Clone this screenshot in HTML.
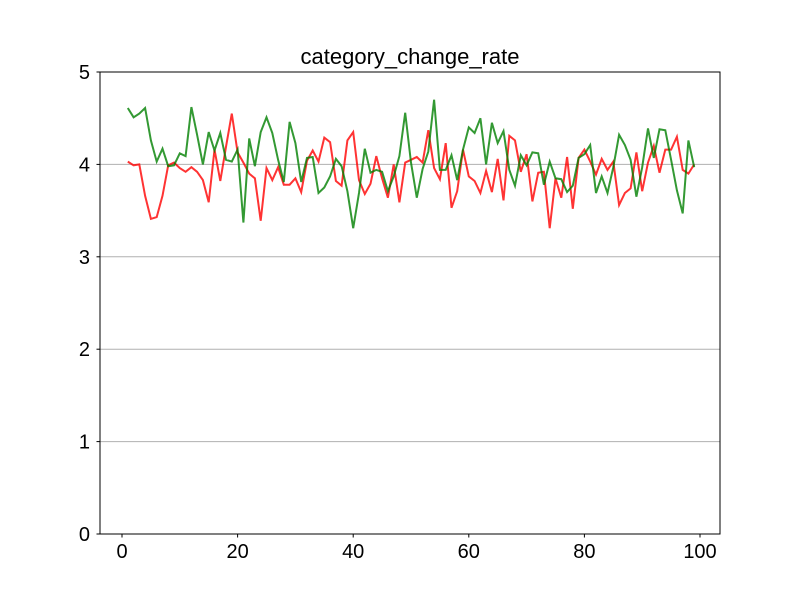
<!DOCTYPE html>
<html><head><meta charset="utf-8">
<style>
html,body{margin:0;padding:0;background:#fff;}
svg text{font-family:"Liberation Sans","DejaVu Sans",sans-serif;fill:#000;}
</style></head>
<body>
<svg id="chart" width="800" height="600" xmlns="http://www.w3.org/2000/svg">
<rect width="800" height="600" fill="#fff"/>
<text x="410" y="64" font-size="22" text-anchor="middle">category_change_rate</text>
<g id="grid"></g>
<g id="series"></g>
<rect x="100" y="72" width="620" height="462" fill="none" stroke="#000" stroke-width="1"/>
<g id="ticks"></g>
</svg>
<script>
const yTicks = [0,1,2,3,4,5];
const xTicks = [0,20,40,60,80,100];
const redValues = [4.03,3.99,4.00,3.66,3.41,3.43,3.66,3.99,4.02,3.96,3.92,3.97,3.92,3.83,3.59,4.16,3.82,4.19,4.55,4.13,4.02,3.90,3.85,3.39,3.96,3.83,3.97,3.78,3.78,3.85,3.70,4.04,4.15,4.03,4.29,4.24,3.82,3.77,4.26,4.35,3.83,3.68,3.79,4.09,3.85,3.64,4.00,3.59,4.02,4.05,4.08,4.02,4.37,3.96,3.84,4.23,3.53,3.71,4.16,3.87,3.82,3.69,3.93,3.70,4.06,3.61,4.31,4.26,3.92,4.11,3.60,3.91,3.92,3.31,3.85,3.64,4.08,3.52,4.07,4.16,4.03,3.89,4.06,3.94,4.03,3.56,3.69,3.74,4.13,3.71,4.02,4.20,3.91,4.16,4.16,4.30,3.94,3.90,4.00];
const greenValues = [4.61,4.51,4.55,4.61,4.26,4.03,4.17,3.98,3.99,4.12,4.09,4.62,4.32,4.00,4.35,4.15,4.34,4.05,4.03,4.16,3.37,4.28,3.98,4.35,4.51,4.34,4.05,3.81,4.46,4.23,3.81,4.07,4.08,3.69,3.75,3.87,4.06,3.98,3.71,3.31,3.69,4.17,3.91,3.94,3.92,3.71,3.87,4.09,4.56,4.02,3.64,3.95,4.14,4.70,3.94,3.94,4.10,3.83,4.16,4.40,4.34,4.50,4.00,4.45,4.23,4.36,3.94,3.77,4.10,3.99,4.13,4.12,3.78,4.03,3.85,3.84,3.70,3.77,4.07,4.11,4.21,3.69,3.87,3.69,3.97,4.32,4.21,4.05,3.65,3.97,4.39,4.07,4.38,4.37,4.05,3.72,3.47,4.26,3.97];
const NS="http://www.w3.org/2000/svg";
function xs(v){return 122 + v*5.78;}
function ys(v){return 534 - v*92.4;}
const grid=document.getElementById('grid'), ticks=document.getElementById('ticks'), series=document.getElementById('series');
yTicks.forEach(t=>{
  const y=ys(t);
  if(t>0&&t<5){const l=document.createElementNS(NS,'line');
  
  
  l.setAttribute('x1',100);l.setAttribute('x2',720);l.setAttribute('y1',y);l.setAttribute('y2',y);
  l.setAttribute('stroke','#b0b0b0');l.setAttribute('stroke-width','1');grid.appendChild(l);}
  const tk=document.createElementNS(NS,'line');
  
  
  tk.setAttribute('x1',96.5);tk.setAttribute('x2',100);tk.setAttribute('y1',y);tk.setAttribute('y2',y);tk.setAttribute('stroke','#000');ticks.appendChild(tk);
  const tx=document.createElementNS(NS,'text');
  
  
  tx.setAttribute('x',90);tx.setAttribute('y',y+7);tx.setAttribute('font-size','20');tx.setAttribute('text-anchor','end');tx.textContent=t;ticks.appendChild(tx);
});
xTicks.forEach(t=>{
  const x=xs(t);
  const tk=document.createElementNS(NS,'line');
  
  
  tk.setAttribute('x1',x);tk.setAttribute('x2',x);tk.setAttribute('y1',534);tk.setAttribute('y2',537.5);tk.setAttribute('stroke','#000');ticks.appendChild(tk);
  const tx=document.createElementNS(NS,'text');
  
  
  tx.setAttribute('x',x);tx.setAttribute('y',558);tx.setAttribute('font-size','20');tx.setAttribute('text-anchor','middle');tx.textContent=t;ticks.appendChild(tx);
});
function drawLine(vals,color,name){
  const p=document.createElementNS(NS,'polyline');
  
  
  p.setAttribute('points',vals.map((v,i)=>xs(i+1).toFixed(1)+','+ys(v).toFixed(1)).join(' '));
  p.setAttribute('fill','none');p.setAttribute('stroke',color);p.setAttribute('stroke-width','2');p.setAttribute('stroke-opacity','0.8');
  series.appendChild(p);
}
drawLine(redValues,'#ff0000','red-series-line');
drawLine(greenValues,'#008000','green-series-line');
</script>
</body></html>
